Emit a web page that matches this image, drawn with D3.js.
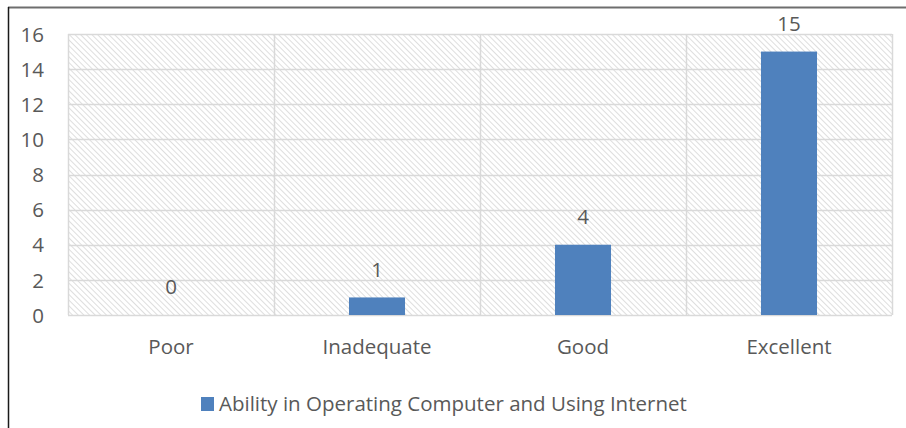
<!DOCTYPE html>
<html>
<head>
<meta charset="utf-8">
<script src="https://cdn.jsdelivr.net/npm/d3@7"></script>
<style>
  body { margin: 0; background: #fff; }
  svg text { font-family: 'Open Sans', sans-serif; fill: #595959; }
</style>
</head>
<body>
<div class="chart"></div>
<script>
var categories = ['Poor', 'Inadequate', 'Good', 'Excellent']
  , values = [0, 1, 4, 15]
  , yTicks = [0, 2, 4, 6, 8, 10, 12, 14, 16]
  , seriesName = 'Ability in Operating Computer and Using Internet';

var w = 906
  , h = 428
  , plotLeft = 68
  , plotRight = 892
  , plotTop = 34
  , plotBottom = 315
  , fontSize = 20.5
  , barColor = '#4f81bd'
  , gridColor = '#d9d9d9';

var svg = d3.select('.chart')
            .append('svg')
            .attr('width', w)
            .attr('height', h);

// diagonal hatch for the plot area
var defs = svg.append('defs');
var pat = defs.append('pattern')
    .attr('id', 'hatch')
    .attr('patternUnits', 'userSpaceOnUse')
    .attr('width', 4)
    .attr('height', 4)
    .attr('patternTransform', 'rotate(-45)');
pat.append('rect').attr('width', 4).attr('height', 4).attr('fill', '#fff');
pat.append('line')
    .attr('x1', 0).attr('y1', 0).attr('x2', 0).attr('y2', 4)
    .attr('stroke', '#d4d4d4')
    .attr('stroke-width', 1.5);

var x = d3.scaleBand()
          .domain(categories)
          .range([plotLeft, plotRight])
          .paddingInner(0.728)
          .paddingOuter(0.364);

var y = d3.scaleLinear()
          .domain([0, 16])
          .range([plotBottom, plotTop]);

// frame: grey top edge, dark left edge
svg.append('line')
    .attr('x1', 8).attr('x2', w).attr('y1', 7.5).attr('y2', 7.5)
    .attr('stroke', '#6e6e6e').attr('stroke-width', 2);
svg.append('line')
    .attr('x1', 8.5).attr('x2', 8.5).attr('y1', 7).attr('y2', h)
    .attr('stroke', '#1a1a1a').attr('stroke-width', 1.5);

svg.append('rect')
    .attr('x', plotLeft)
    .attr('y', plotTop)
    .attr('width', plotRight - plotLeft)
    .attr('height', plotBottom - plotTop)
    .attr('fill', 'url(#hatch)');

// horizontal gridlines
svg.append('g')
    .selectAll('line')
    .data(yTicks)
    .enter()
    .append('line')
    .attr('x1', plotLeft)
    .attr('x2', plotRight)
    .attr('y1', function (d) { return Math.round(y(d)) + 0.5; })
    .attr('y2', function (d) { return Math.round(y(d)) + 0.5; })
    .attr('stroke', gridColor)
    .attr('stroke-width', 1.5);

// vertical gridlines at category boundaries
var step = x.step()
  , bounds = d3.range(categories.length + 1).map(function (i) { return plotLeft + i * step; });
svg.append('g')
    .selectAll('line')
    .data(bounds)
    .enter()
    .append('line')
    .attr('x1', function (d) { return Math.round(d) + 0.5; })
    .attr('x2', function (d) { return Math.round(d) + 0.5; })
    .attr('y1', plotTop)
    .attr('y2', plotBottom)
    .attr('stroke', gridColor)
    .attr('stroke-width', 1.5);

// y axis labels
var yAxis = d3.axisLeft(y).tickValues(yTicks).tickSize(0).tickPadding(0);
var yg = svg.append('g')
    .attr('transform', 'translate(' + 44 + ',0)')
    .call(yAxis);
yg.select('.domain').remove();
yg.selectAll('text')
    .attr('font-size', fontSize)
    .attr('dy', '0.35em')
    .style('font-family', "'Open Sans', sans-serif")
    .attr('fill', '#595959');

// x axis labels
var xAxis = d3.axisBottom(x).tickSize(0).tickPadding(0);
var xg = svg.append('g')
    .attr('transform', 'translate(0,' + 347 + ')')
    .call(xAxis);
xg.select('.domain').remove();
xg.selectAll('text')
    .attr('font-size', fontSize)
    .attr('dy', '0.35em')
    .attr('y', 0)
    .style('font-family', "'Open Sans', sans-serif")
    .attr('fill', '#595959');

// bars
svg.selectAll('rect.bar')
    .data(values)
    .enter()
    .append('rect')
    .attr('class', 'bar')
    .attr('x', function (d, i) { return x(categories[i]); })
    .attr('y', function (d) { return y(d); })
    .attr('width', x.bandwidth())
    .attr('height', function (d) { return y(0) - y(d); })
    .attr('fill', barColor);

// value labels
svg.selectAll('text.val')
    .data(values)
    .enter()
    .append('text')
    .attr('class', 'val')
    .attr('x', function (d, i) { return x(categories[i]) + x.bandwidth() / 2; })
    .attr('y', function (d) { return y(d) - 28; })
    .attr('dy', '0.35em')
    .attr('text-anchor', 'middle')
    .attr('font-size', fontSize)
    .text(function (d) { return d; });

// legend
var legend = svg.append('g').attr('transform', 'translate(201,397)');
legend.append('rect')
    .attr('width', 13)
    .attr('height', 14)
    .attr('fill', barColor);
legend.append('text')
    .attr('x', 18)
    .attr('y', 7)
    .attr('dy', '0.35em')
    .attr('font-size', fontSize)
    .text(seriesName);
</script>
</body>
</html>
